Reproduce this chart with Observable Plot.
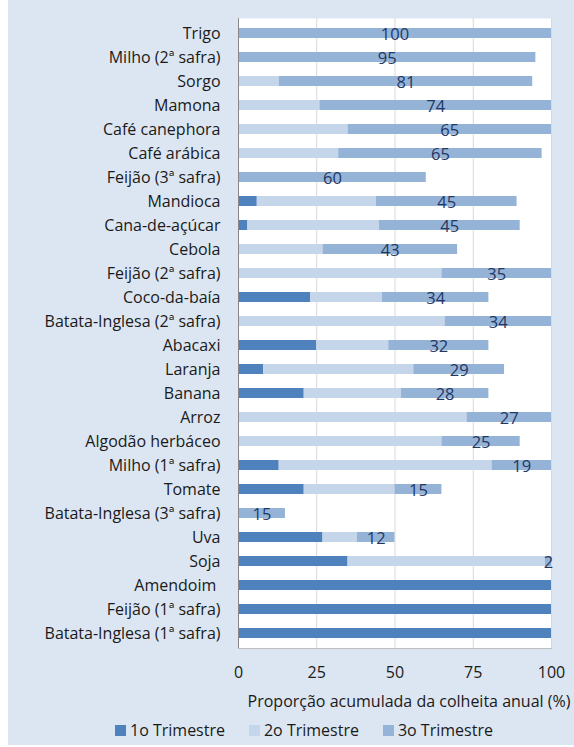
<!DOCTYPE html>
<html><head><meta charset="utf-8">
<script src="https://cdn.jsdelivr.net/npm/d3@7"></script>
<script src="https://cdn.jsdelivr.net/npm/@observablehq/plot@0.6"></script>
<style>
body{margin:0;background:#fff;}
#wrap{position:absolute;left:8px;top:0;width:566px;height:745px;background:#dce6f2;font-family:"Open Sans",sans-serif;color:#1a1a1a;}
#chart{position:absolute;left:0;top:0;}
#xtitle{position:absolute;left:401px;top:690px;transform:translateX(-50%);white-space:nowrap;font-size:16px;line-height:22px;}
#legend{position:absolute;left:107px;top:719px;display:flex;gap:24px;font-size:16px;line-height:22px;white-space:nowrap;}
#legend .item{display:flex;align-items:center;}
#legend .sw{width:11px;height:11px;margin-right:4px;display:inline-block;}
</style></head><body>
<div id="wrap"><div id="chart"></div><div id="xtitle"></div><div id="legend"></div></div>
<script>
const crops = ["Trigo","Milho (2ª safra)","Sorgo","Mamona","Café canephora","Café arábica","Feijão (3ª safra)","Mandioca","Cana-de-açúcar","Cebola","Feijão (2ª safra)","Coco-da-baía","Batata-Inglesa (2ª safra)","Abacaxi","Laranja","Banana","Arroz","Algodão herbáceo","Milho (1ª safra)","Tomate","Batata-Inglesa (3ª safra)","Uva","Soja","Amendoim\u00a0","Feijão (1ª safra)","Batata-Inglesa (1ª safra)"];
const q1 = [0,0,0,0,0,0,0,6,3,0,0,23,0,25,8,21,0,0,13,21,0,27,35,100,100,100];
const q2 = [0,0,13,26,35,32,0,38,42,27,65,23,66,23,48,31,73,65,68,29,0,11,63,0,0,0];
const q3 = [100,95,81,74,65,65,60,45,45,43,35,34,34,32,29,28,27,25,19,15,15,12,2,0,0,0];
const seriesNames = ["1o Trimestre","2o Trimestre","3o Trimestre"];
const seriesColors = ["#4f81bd","#c6d6ea","#95b3d7"];
const xTicks = [0,25,50,75,100];
const xTitle = "Proporção acumulada da colheita anual (%)";

const rows = [];
crops.forEach((c,i)=>{
  [q1,q2,q3].forEach((arr,j)=>{
    if (arr[i] > 0) rows.push({crop:c, series:seriesNames[j], value:arr[i]});
  });
});

const plot = Plot.plot({
  width:566, height:685,
  marginLeft:230, marginRight:23, marginTop:18, marginBottom:37,
  style:{fontFamily:"Open Sans, sans-serif", fontSize:"16px", background:"transparent", color:"#1a1a1a", overflow:"visible"},
  x:{domain:[0,100], ticks:xTicks, label:null},
  y:{domain:crops, paddingInner:0.6, paddingOuter:0.3, label:null},
  color:{domain:seriesNames, range:seriesColors},
  marks:[
    Plot.frame({fill:"white", stroke:null}),
    Plot.gridX({ticks:xTicks, stroke:"#d9d9d9", strokeOpacity:1}),
    Plot.frame({anchor:"bottom", stroke:"#bfbfbf"}),
    Plot.barX(rows, {x:"value", y:"crop", fill:"series"}),
    Plot.text(rows, Plot.stackX({x:"value", y:"crop", z:"series",
      text:d => d.series === seriesNames[2] ? String(d.value) : null,
      fill:"#1f3864", fontSize:16.5, dy:1})),
    Plot.ruleX([0], {stroke:"#868686"}),
    Plot.axisX({ticks:xTicks, tickSize:0, tickPadding:18, label:null}),
    Plot.axisY({tickSize:0, tickPadding:18, label:null})
  ]
});
document.getElementById("chart").appendChild(plot);
document.getElementById("xtitle").textContent = xTitle;
const leg = document.getElementById("legend");
seriesNames.forEach((s,i)=>{
  const it = document.createElement("div"); it.className="item";
  const sw = document.createElement("span"); sw.className="sw"; sw.style.background=seriesColors[i];
  const tx = document.createElement("span"); tx.textContent = s;
  it.appendChild(sw); it.appendChild(tx); leg.appendChild(it);
});
</script>
</body></html>
